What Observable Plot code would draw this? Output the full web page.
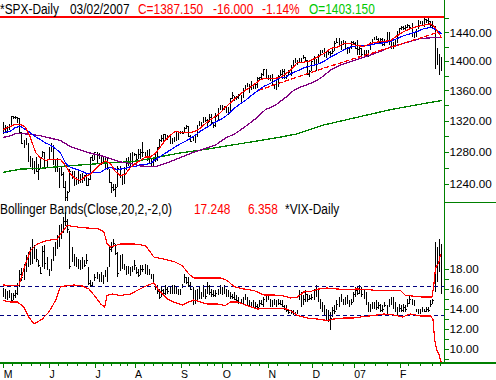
<!DOCTYPE html>
<html><head><meta charset="utf-8">
<script src="https://cdn.jsdelivr.net/npm/d3@7"></script>
<script src="https://cdn.jsdelivr.net/npm/@observablehq/plot@0.6"></script>
<style>
body{margin:0;background:#fff;}
#wrap{position:relative;width:496px;height:380px;overflow:hidden;font-family:"Liberation Sans",Arial,sans-serif;}
#wrap svg{position:absolute;left:0;}
.t{position:absolute;font-size:14px;line-height:16px;white-space:pre;transform:scaleX(0.85);transform-origin:0 0;}
</style></head><body>
<div id="wrap"></div>
<script>
// ---------- S&P 500 daily bars (May 1 2006 .. Mar 2 2007), bar index = position ----------
const spxHigh = [1318.5,1313.7,1313.2,1316.0,1326.5,1326.7,1326.6,1325.2,1322.9,1305.9,
1294.8,1297.9,1291.7,1274.9,1272.2,1268.8,1273.7,1264.5,1273.3,1280.5,
1280.2,1270.1,1285.7,1290.7,1288.2,1269.9,1272.5,1259.8,1262.6,1255.2,
1243.4,1231.5,1258.6,1256.3,1255.9,1249.0,1257.9,1251.9,1253.1,1250.9,
1253.4,1247.1,1272.9,1276.3,1280.4,1280.2,1278.3,1275.3,1274.1,1273.3,
1273.3,1258.6,1242.7,1240.1,1239.9,1261.8,1262.6,1250.9,1261.0,1272.0,
1273.3,1279.0,1280.4,1278.7,1276.7,1283.4,1283.0,1292.5,1279.3,1282.8,
1283.4,1272.6,1271.8,1278.9,1286.2,1296.2,1300.8,1302.3,1302.3,1301.9,
1301.2,1297.6,1298.9,1305.0,1305.0,1306.7,1306.7,1312.0,1314.7,1313.0,
1301.2,1300.1,1302.4,1314.3,1319.4,1318.0,1324.6,1324.7,1322.0,1328.5,
1328.5,1318.0,1329.4,1336.6,1340.1,1340.3,1339.2,1338.5,1338.3,1350.2,
1357.7,1352.8,1352.7,1355.2,1353.4,1363.1,1366.6,1370.2,1369.1,1372.9,
1368.1,1368.7,1377.8,1377.8,1383.6,1389.5,1388.9,1381.2,1381.2,1381.9,
1368.4,1374.4,1381.4,1388.2,1388.6,1388.9,1381.0,1387.6,1394.5,1401.4,
1403.8,1401.2,1404.4,1403.5,1407.9,1405.3,1401.0,1387.6,1401.5,1406.3,
1402.5,1409.1,1415.3,1415.9,1418.3,1414.0,1415.6,1413.8,1416.6,1427.2,
1431.6,1431.8,1428.3,1429.9,1427.7,1418.8,1417.9,1427.7,1427.5,1427.0,
1429.4,1421.8,1418.3,1414.9,1415.6,1415.0,1427.1,1431.2,1433.9,1435.3,
1432.4,1431.6,1431.4,1430.4,1440.7,1440.7,1427.6,1426.9,1428.8,1441.6,
1446.6,1449.3,1449.4,1450.2,1452.0,1450.1,1453.0,1439.1,1444.4,1457.6,
1457.0,1456.8,1460.3,1459.7,1461.6,1456.4,1456.9,1449.4,1418.0,1409.0,
1406.0];
const spxLow = [1303.1,1305.2,1303.9,1307.8,1312.3,1322.0,1322.5,1317.4,1303.5,1290.4,
1284.5,1288.5,1267.3,1261.8,1257.2,1252.9,1255.5,1245.3,1258.6,1272.9,
1259.9,1259.9,1269.2,1280.2,1264.6,1254.8,1255.8,1235.5,1250.0,1236.4,
1219.3,1219.3,1230.0,1246.3,1237.2,1238.9,1240.1,1241.5,1241.4,1243.7,
1238.9,1237.6,1245.3,1270.2,1270.2,1265.9,1270.9,1263.1,1264.2,1257.0,
1257.8,1241.4,1228.5,1231.5,1224.5,1236.9,1249.0,1238.7,1240.3,1257.2,
1261.9,1261.0,1263.2,1274.3,1263.1,1270.9,1271.0,1273.6,1273.0,1268.4,
1264.7,1261.3,1261.8,1266.7,1268.2,1285.6,1292.7,1293.6,1295.5,1294.5,
1289.8,1290.0,1292.0,1293.3,1295.3,1302.2,1302.3,1303.8,1308.8,1299.3,
1292.1,1294.0,1290.9,1299.5,1313.0,1313.3,1316.3,1318.2,1312.1,1317.6,
1315.5,1310.6,1311.4,1321.0,1333.5,1333.8,1333.7,1330.3,1327.1,1331.5,
1348.8,1346.4,1346.6,1348.9,1343.2,1350.0,1360.5,1364.5,1356.9,1360.9,
1362.1,1362.1,1363.6,1372.4,1376.0,1379.5,1375.9,1373.5,1372.2,1366.0,
1362.2,1360.9,1364.3,1379.8,1375.0,1374.7,1375.6,1378.8,1379.1,1392.1,
1396.6,1394.6,1397.9,1399.0,1402.3,1399.2,1381.4,1377.8,1386.7,1393.8,
1385.9,1396.7,1408.8,1411.1,1406.8,1403.7,1408.6,1404.8,1409.8,1413.2,
1425.5,1420.6,1414.9,1423.5,1416.6,1410.6,1410.5,1416.9,1422.5,1416.8,
1407.9,1408.4,1405.8,1403.9,1405.4,1405.4,1414.9,1422.8,1428.6,1428.6,
1424.2,1425.4,1420.4,1420.4,1428.0,1423.0,1416.8,1416.0,1420.6,1424.8,
1437.9,1443.9,1442.9,1443.4,1446.4,1442.9,1433.4,1431.4,1433.4,1444.3,
1452.0,1450.4,1447.4,1452.9,1450.5,1448.4,1445.5,1389.4,1394.0,1381.0,
1387.0];
const spxClose = [1305.2,1313.2,1308.1,1312.3,1325.8,1324.7,1325.1,1322.9,1305.9,1291.2,
1294.5,1292.1,1270.3,1261.8,1267.0,1262.1,1256.6,1258.6,1272.9,1280.2,
1259.9,1270.1,1285.7,1288.2,1265.3,1263.9,1256.2,1257.9,1252.3,1236.4,
1223.7,1230.0,1256.2,1251.5,1240.1,1240.1,1252.2,1245.6,1244.5,1250.6,
1239.2,1246.0,1272.9,1270.2,1280.2,1270.9,1274.1,1265.5,1267.3,1272.4,
1258.6,1242.3,1236.2,1234.5,1236.9,1259.8,1249.1,1240.3,1260.9,1268.9,
1268.4,1263.2,1278.6,1276.7,1270.9,1277.4,1280.3,1279.4,1275.8,1271.5,
1266.0,1271.8,1266.7,1268.2,1285.6,1295.4,1297.5,1302.3,1297.5,1298.8,
1293.0,1296.1,1295.1,1301.8,1304.3,1305.4,1303.8,1311.0,1313.3,1300.3,
1294.0,1298.9,1299.5,1313.0,1318.1,1316.3,1319.7,1321.2,1317.6,1325.2,
1318.0,1314.8,1326.4,1336.4,1336.6,1338.9,1335.9,1331.3,1334.1,1350.2,
1353.2,1349.6,1350.7,1353.4,1350.0,1362.8,1365.6,1369.1,1364.1,1365.8,
1367.0,1368.6,1377.0,1377.4,1382.2,1389.1,1377.3,1377.9,1377.9,1367.8,
1367.3,1364.3,1379.8,1382.8,1385.7,1378.3,1380.9,1384.4,1393.2,1396.6,
1399.8,1401.2,1400.5,1402.8,1406.1,1401.0,1382.0,1386.7,1399.5,1400.6,
1396.7,1409.1,1414.8,1412.9,1407.3,1409.8,1413.0,1411.6,1413.2,1425.5,
1427.1,1422.5,1425.6,1423.5,1418.3,1410.8,1416.9,1426.8,1424.7,1418.3,
1416.6,1418.3,1409.7,1412.8,1412.1,1414.9,1423.8,1430.7,1431.9,1430.6,
1426.4,1430.5,1423.0,1428.0,1440.1,1423.9,1422.2,1420.6,1428.8,1438.2,
1445.9,1448.4,1447.0,1448.0,1450.0,1448.3,1438.1,1433.4,1444.3,1455.3,
1456.8,1455.5,1459.7,1457.6,1456.4,1451.2,1449.4,1399.0,1406.8,1403.2,
1387.2];

// ---------- moving averages: [bar index, value] ----------
const ma10 = [[0,1309],[5,1315],[8.3,1316],[10.7,1312],[13,1299],[15.5,1280],[17.9,1273],[20.3,1270],[22.7,1271],[25,1271],[27.5,1271],[30,1263],[32.3,1253],[34.7,1247],[37,1245],[39.5,1250],[41.8,1253],[44.2,1259],[46.6,1265],[49,1269],[51.4,1266],[53.8,1256],[56.2,1251],[58.6,1253],[61,1261],[63.4,1266],[65.8,1270],[68.2,1274],[70.6,1274],[73,1279],[75.4,1287],[77.8,1296],[80.2,1302],[82.6,1307],[85,1305],[87.4,1305],[89.8,1305],[92.2,1307],[94.6,1311],[97,1317],[99.4,1322],[101.7,1326],[104.1,1331],[106.5,1338],[108.9,1344],[111.3,1350],[113.7,1356],[116.1,1361],[118.5,1365],[120.9,1370],[123.3,1375],[125.7,1377],[128.1,1377],[130.5,1377],[132.9,1378],[135.3,1383],[137.7,1388],[140.9,1398],[144.1,1399],[147.3,1401],[150.5,1406],[153.7,1411],[156.9,1418],[160.1,1420],[163.3,1425],[166.5,1425],[169.6,1422],[172.8,1421],[176,1425],[179.2,1427],[182.4,1428],[185.6,1429],[188.8,1436],[192,1442],[195.2,1446],[198.4,1449],[201.6,1451],[204.8,1453],[206.7,1449],[208,1443],[209.6,1436],[210,1433]];
const ma20 = [[0,1305],[3.5,1307],[5.9,1312],[8.3,1313],[10.7,1309],[13,1305],[15.5,1300],[17.9,1296],[20.3,1292],[22.7,1289],[25,1285],[27.5,1279],[30,1266],[32.3,1261],[34.7,1259],[37,1257],[39.5,1254],[41.8,1254],[44.2,1255],[46.6,1255],[49,1259],[51.4,1261],[53.8,1259],[56.2,1259],[58.6,1260],[61,1262],[63.4,1262],[65.8,1265],[68.2,1265],[70.6,1266],[73,1271],[75.4,1275],[77.8,1279],[80.2,1283],[82.6,1287],[85,1291],[87.4,1294],[89.8,1298],[92.2,1302],[94.6,1307],[97,1311],[99.4,1315],[101.7,1319],[104.1,1322],[106.5,1326],[108.9,1332],[111.3,1338],[113.7,1343],[116.1,1347],[118.5,1353],[120.9,1358],[123.3,1363],[125.7,1367],[128.1,1370],[130.5,1374],[132.9,1378],[135.3,1378],[137.7,1383],[140.9,1387],[144.1,1391],[147.3,1394],[150.5,1396],[153.7,1400],[156.9,1406],[160.1,1411],[163.3,1416],[166.5,1420],[169.6,1422],[172.8,1422],[176,1423],[179.2,1425],[182.4,1426],[185.6,1428],[188.8,1432],[192,1436],[195.2,1439],[198.4,1442],[201.6,1446],[204.8,1448],[208,1444],[209.6,1440],[210,1439]];
const ma50 = [[0,1299],[3.5,1301],[5.9,1304],[8.3,1304],[13,1303],[17.9,1301],[22.7,1298],[27.5,1295],[32.3,1287],[37,1283],[41.8,1279],[46.6,1276],[51.4,1272],[56.2,1268],[61,1266],[65.8,1263],[70.6,1262],[73,1262],[77.8,1266],[82.6,1271],[87.4,1276],[92.2,1281],[97,1285],[101.7,1289],[106.5,1298],[111.3,1304],[116.1,1313],[120.9,1323],[125.7,1335],[130.5,1341],[135.3,1351],[139,1360],[142.5,1365],[147.3,1370],[152.1,1377],[156.9,1388],[161.7,1395],[166.5,1400],[171.2,1404],[176,1409],[180.8,1414],[185.6,1420],[190.4,1424],[195.2,1428],[200,1432],[204.8,1433],[210,1434]];
const ma200 = [[0,1255],[8.3,1259],[17.9,1260],[30.7,1263],[41.8,1265],[51.4,1267],[61,1268],[70.6,1272],[84.2,1279],[100.1,1285],[116.1,1292],[132.1,1299],[140,1303],[153.7,1315],[169.6,1325],[185.6,1335],[201.6,1343],[210,1347]];
const trendDashed = [[122.4,1360.7],[137.7,1375.6],[153.5,1390.5],[169.9,1405.6],[185.7,1419.6],[198.6,1431.6],[208.2,1440.6]];

// ---------- VIX daily bars ----------
const vixHigh = [16.1,16.0,15.8,15.9,15.6,15.6,15.9,16.6,17.9,18.1,
18.5,19.4,19.7,20.2,21.0,20.4,20.0,18.9,18.2,20.3,
20.4,19.2,18.0,19.0,20.2,20.7,21.4,22.4,22.5,23.2,
23.7,23.0,21.8,20.2,19.5,19.2,19.0,18.9,19.2,18.9,
19.5,18.2,16.9,16.7,17.5,17.7,17.5,17.7,17.4,17.9,
18.2,20.3,20.7,21.0,20.5,19.7,19.4,19.5,18.5,18.3,
18.3,18.2,18.3,18.9,18.2,18.0,18.4,18.4,18.5,18.4,
18.0,17.5,17.5,16.5,16.4,16.0,16.2,16.0,16.4,16.2,
16.2,16.4,16.4,16.2,16.0,16.0,16.5,17.5,17.2,17.2,
16.7,16.2,15.9,16.0,16.2,15.7,16.35,16.0,16.7,16.35,
16.0,15.85,15.85,16.0,16.35,16.2,16.35,16.0,15.85,15.7,
15.5,15.7,15.35,15.2,15.0,15.2,15.5,15.2,14.85,14.7,
14.85,14.7,14.5,14.85,14.85,15.2,15.35,15.5,15.0,14.85,
15.0,14.85,15.0,14.85,14.85,14.35,14.35,14.0,13.85,13.85,
13.7,13.85,15.85,15.7,15.35,15.85,15.5,15.35,15.5,16.0,
16.35,16.0,15.0,14.7,14.35,14.0,13.85,13.7,14.2,14.35,
14.85,15.2,15.5,15.0,15.2,15.35,14.85,15.0,15.7,16.2,
16.2,16.35,16.2,16.0,15.7,14.7,14.5,14.7,14.7,14.85,
14.7,14.5,14.35,14.7,14.35,15.0,15.2,15.2,14.7,14.2,
14.5,14.35,14.5,14.35,15.0,15.35,15.0,14.85,14.0,14.0,
14.0,14.2,14.0,14.2,14.2,14.85,15.0,20.7,20.2,21.0,
20.5];
const vixLow = [15.2,15.0,14.9,15.1,14.7,14.9,15.1,15.4,16.2,16.8,
16.9,17.7,18.2,18.4,18.5,19.0,18.7,18.2,17.5,18.2,
18.0,17.9,17.3,17.8,18.8,19.3,20.0,20.2,21.0,21.6,
22.3,21.6,18.0,18.7,18.3,18.2,18.0,17.9,18.0,18.2,
18.5,16.4,16.2,16.2,16.8,17.0,16.7,16.7,16.5,17.2,
16.7,18.2,19.7,20.2,19.4,17.2,17.8,18.0,17.9,17.4,
17.5,17.3,17.7,17.9,17.5,17.2,17.4,17.7,17.5,17.4,
17.4,17.0,16.7,15.9,15.5,15.0,15.2,15.4,15.4,15.5,
15.5,15.5,15.5,15.5,15.4,15.4,16.1,16.6,16.5,16.2,
15.9,14.35,14.5,14.85,15.0,15.0,15.2,15.0,15.5,15.35,
15.2,15.2,15.2,15.35,15.5,15.35,15.5,15.2,15.2,15.0,
15.0,14.85,14.7,14.5,14.5,14.35,14.85,14.35,14.2,14.2,
14.2,14.0,14.0,14.2,14.35,14.2,14.7,14.85,14.2,14.2,
14.35,14.2,14.35,14.35,14.2,13.85,13.7,13.5,13.5,13.35,
13.35,13.5,14.85,14.2,14.35,14.7,14.7,14.85,14.85,14.85,
15.2,14.7,14.0,13.7,13.35,12.85,12.7,11.85,13.2,13.5,
13.85,14.2,14.7,14.35,14.35,14.5,14.2,14.35,14.7,15.2,
15.35,15.5,15.2,15.0,14.35,13.7,13.7,14.0,14.0,13.85,
14.0,13.7,13.7,14.2,13.5,14.2,14.35,14.0,13.7,13.35,
13.7,13.7,13.7,13.7,14.2,14.5,14.35,14.35,13.7,13.5,
13.5,13.7,13.7,13.7,13.7,14.2,14.5,15.7,16.7,17.7,
15.5];
const vixClose = [15.6,15.3,15.5,15.2,14.9,15.4,15.6,16.4,17.5,17.2,
18.2,18.9,19.2,18.6,20.5,19.5,19.0,18.4,17.6,19.8,
18.6,18.2,17.5,18.8,19.8,20.2,20.6,22.0,21.7,22.8,
22.8,22.0,18.3,19.2,18.6,18.5,18.4,18.1,18.8,18.4,
18.9,16.6,16.4,16.3,17.2,17.4,16.9,17.3,16.8,17.5,
18.0,20.0,20.2,20.6,19.6,17.6,18.5,18.3,18.1,17.6,
17.8,17.5,17.9,18.4,17.7,17.4,18.0,18.0,18.1,17.7,
17.5,17.1,16.9,16.1,15.8,15.2,15.9,15.6,16.0,15.8,
15.9,16.0,15.7,15.9,15.6,15.5,16.3,17.2,16.7,16.4,
16.0,14.7,15.2,15.5,15.3,15.3,16.0,15.3,16.3,15.7,
15.5,15.4,15.6,15.8,15.9,15.7,15.8,15.4,15.5,15.3,
15.2,15.0,14.9,14.7,14.8,14.6,15.2,14.5,14.4,14.5,
14.6,14.3,14.2,14.6,14.5,15.0,15.0,15.1,14.4,14.6,
14.7,14.4,14.6,14.5,14.3,14.0,13.9,13.7,13.6,13.5,
13.5,13.7,15.6,14.6,15.0,15.5,15.0,15.1,15.2,15.6,
15.5,14.9,14.3,14.0,13.6,13.2,13.0,13.1,13.9,13.8,
14.5,14.9,15.3,14.6,14.9,15.0,14.5,14.7,15.5,15.9,
15.6,16.0,15.5,15.3,14.6,13.9,14.2,14.3,14.5,14.2,
14.4,13.9,14.0,14.4,13.8,14.8,14.9,14.3,14.0,13.6,
14.1,13.9,14.2,14.0,14.6,15.0,14.5,14.4,13.8,13.7,
13.8,13.9,13.8,14.0,13.9,14.5,14.9,20.0,18.5,18.5,
16.2];
const bbUpper = [[0,16.4],[3.5,16.35],[7.5,16.35],[10.7,18.5],[13.1,19.85],[16.3,20.5],[21.1,20.85],[25.9,21.0],[28.3,21.7],[30.7,22.35],[35.5,22.2],[40.3,22.1],[45.9,22.0],[48.3,21.7],[49.8,20.5],[51.4,20.2],[56.2,20.5],[62.6,20.5],[68.2,20.35],[72.2,19.2],[77,19.0],[81.8,18.75],[85.8,18.35],[89,17.5],[91.4,17.1],[97.8,17.1],[104.2,17.1],[107.4,16.85],[110.6,16.25],[115.4,16.0],[120.2,15.85],[125,15.4],[129.8,15.4],[134.5,15.3],[137.7,15.1],[141,15.2],[144.1,15.7],[147.3,15.75],[151.3,16.0],[155.3,16.1],[160.1,16.0],[164.9,15.95],[169.7,16.0],[174.5,15.95],[179.3,15.85],[185.7,15.85],[190.5,15.85],[192.9,15.35],[196,15.3],[200.8,15.2],[205.6,15.2],[206.4,16.35],[207.2,18.0],[208,18.35],[208.8,18.6],[209.6,19.4]];
const bbLower = [[0,14.85],[3.5,14.7],[6.7,14.7],[9.9,14.2],[12.3,13.2],[14.7,12.5],[16.3,12.7],[18.7,13.0],[21.9,13.7],[25.1,14.85],[27.5,16.25],[29.9,16.3],[33.9,16.4],[37.9,16.3],[41.1,16.0],[44.3,15.2],[46.7,14.5],[48.7,14.2],[49.8,15.35],[52.2,15.5],[56.2,15.35],[61,15.5],[64.2,15.85],[69,16.35],[72.2,16.6],[74.6,15.85],[78.6,15.0],[81.8,14.7],[85.8,14.4],[89,14.7],[91.4,14.9],[94.6,14.7],[97.8,14.5],[102.5,14.5],[106.5,14.35],[109,14.7],[112.2,14.7],[117,14.35],[121.8,14.0],[126.6,14.05],[131.4,14.05],[136.1,14.0],[138.5,13.75],[141,13.35],[145.7,13.1],[150.5,13.0],[155.3,12.85],[158.5,13.0],[163.3,13.1],[168.1,13.1],[172.9,13.25],[177.7,13.35],[182.5,13.5],[187.3,13.4],[191.3,13.2],[195.3,13.5],[200.1,13.3],[204.8,13.3],[206,13.0],[206.8,11.0],[207.7,10.0],[208.8,9.5],[209.9,8.7]];
const vixLevels = [16.25, 13.35];

// ---------- axes ----------
const monthTicks = [0,22,44,63,85,105,127,148,168,190];
const monthLabels = ["M","J","J","A","S","O","N","D","07","F"];
const weekTicks = [4.4,9,13.5,18,26.5,31,35.5,40,48,52,56,59.5,67.5,72,76.5,81,89.5,94,98,101.5,109.5,114,118.5,123,131.5,137,142.5,153,157.7,163.3,173,178.5,184,194.4,200,205.7,209.6];
const spxTicks = [1240,1260,1280,1300,1320,1340,1360,1380,1400,1420,1440,1460];
const spxLabels = [1240,1280,1320,1360,1400,1440];
const vixTicks = [9,10,11,12,13,14,15,16,17,18];
const vixLabels = [10,12,14,16,18];

const GREEN = "#008000";
const X0 = -1.2943, X1 = 211.553, XR = 236.48;
const idx = d3.range(spxClose.length);
const vidx = d3.range(vixClose.length);
const font = {fontFamily: '"Liberation Sans", Arial, sans-serif', fontSize: "11.7px", color: "#000", background: "transparent"};
const mlabel = new Map(monthTicks.map((t, i) => [t, monthLabels[i]]));

const topPlot = Plot.plot({
  width: 496, height: 201, marginTop: 0, marginBottom: 0, marginLeft: 0, marginRight: 52,
  x: {domain: [X0, X1], axis: null},
  y: {type: "log", domain: [1219.4, 1486.8], axis: null},
  style: font,
  marks: [
    Plot.ruleX(idx, {x: i => i, y1: i => spxLow[i], y2: i => spxHigh[i], stroke: "#000"}),
    Plot.ruleY(idx, {y: i => spxClose[i], x1: i => i, x2: i => i + 0.7, stroke: "#000"}),
    Plot.line(ma200, {x: d => d[0], y: d => d[1], stroke: GREEN, strokeWidth: 1.3}),
    Plot.line(ma50, {x: d => d[0], y: d => d[1], stroke: "#800080", strokeWidth: 1.3}),
    Plot.line(trendDashed, {x: d => d[0], y: d => d[1], stroke: "#ff0000", strokeWidth: 1.3, strokeDasharray: "4,3"}),
    Plot.line(ma20, {x: d => d[0], y: d => d[1], stroke: "#0000ff", strokeWidth: 1.2}),
    Plot.line(ma10, {x: d => d[0], y: d => d[1], stroke: "#ff0000", strokeWidth: 1.2}),
    Plot.ruleY([1463.5], {x1: X0, x2: X1, stroke: "#ff0000", strokeWidth: 2}),
    Plot.ruleX([X1], {y1: 1219.4, y2: 1486.8, stroke: GREEN}),
    Plot.axisY(spxTicks, {anchor: "right", tickSize: 4, tickPadding: 1, stroke: GREEN, fill: "#000",
      tickFormat: d => spxLabels.includes(d) ? d.toFixed(2) : ""})
  ]
});

const botPlot = Plot.plot({
  width: 496, height: 179, marginTop: 0, marginBottom: 17.5, marginLeft: 0, marginRight: 52,
  x: {domain: [X0, X1], axis: null},
  y: {domain: [8.6, 24.75], axis: null},
  style: font,
  marks: [
    Plot.ruleX(vidx, {x: i => i, y1: i => vixLow[i], y2: i => vixHigh[i], stroke: "#000"}),
    Plot.ruleY(vidx, {y: i => vixClose[i], x1: i => i, x2: i => i + 0.7, stroke: "#000"}),
    Plot.ruleY(vixLevels, {x1: X0, x2: X1, stroke: "#000080", strokeDasharray: "4,3"}),
    Plot.line(bbUpper, {x: d => d[0], y: d => d[1], stroke: "#ff0000", strokeWidth: 1.2}),
    Plot.line(bbLower, {x: d => d[0], y: d => d[1], stroke: "#ff0000", strokeWidth: 1.2}),
    Plot.ruleX([X1], {y1: 8.6, y2: 24.75, stroke: GREEN}),
    Plot.ruleY([24.68], {x1: X1, x2: XR, stroke: GREEN}),
    Plot.ruleY([8.6], {x1: X0, x2: XR, stroke: GREEN, strokeWidth: 1.5}),
    Plot.axisY(vixTicks, {anchor: "right", tickSize: 4, tickPadding: 1, stroke: GREEN, fill: "#000",
      tickFormat: d => vixLabels.includes(d) ? d.toFixed(2) : ""}),
    Plot.axisX(weekTicks, {anchor: "bottom", tickSize: 3, stroke: GREEN, tickFormat: () => ""}),
    Plot.axisX(monthTicks, {anchor: "bottom", tickSize: 5, tickPadding: 2.5, stroke: GREEN, fill: "#000",
      fontSize: 10.5, textAnchor: "start", dx: 0.5, tickFormat: d => mlabel.get(d)})
  ]
});

const wrap = document.getElementById("wrap");
for (const [svg, top] of [[topPlot, 0], [botPlot, 201]]) {
  svg.style.top = top + "px";
  svg.setAttribute("shape-rendering", "crispEdges");
  wrap.appendChild(svg);
}
const texts = [
  ["*SPX-Daily", 0, 1, "#000"], ["03/02/2007", 70, 1, "#000"], ["C=1387.150", 138, 1, "#ff0000"],
  ["-16.000", 213, 1, "#ff0000"], ["-1.14%", 261.5, 1, "#ff0000"], ["O=1403.150", 309, 1, "#00c800"],
  ["Bollinger Bands(Close,20,2,-2,0)", 0, 201, "#000"], ["17.248", 194, 201, "#ff0000"],
  ["6.358", 248, 201, "#ff0000"], ["*VIX-Daily", 285, 201, "#000"]
];
for (const [s, x, y, c] of texts) {
  const d = document.createElement("div");
  d.className = "t"; d.textContent = s;
  d.style.left = x + "px"; d.style.top = y + "px"; d.style.color = c;
  wrap.appendChild(d);
}
</script>
</body></html>
